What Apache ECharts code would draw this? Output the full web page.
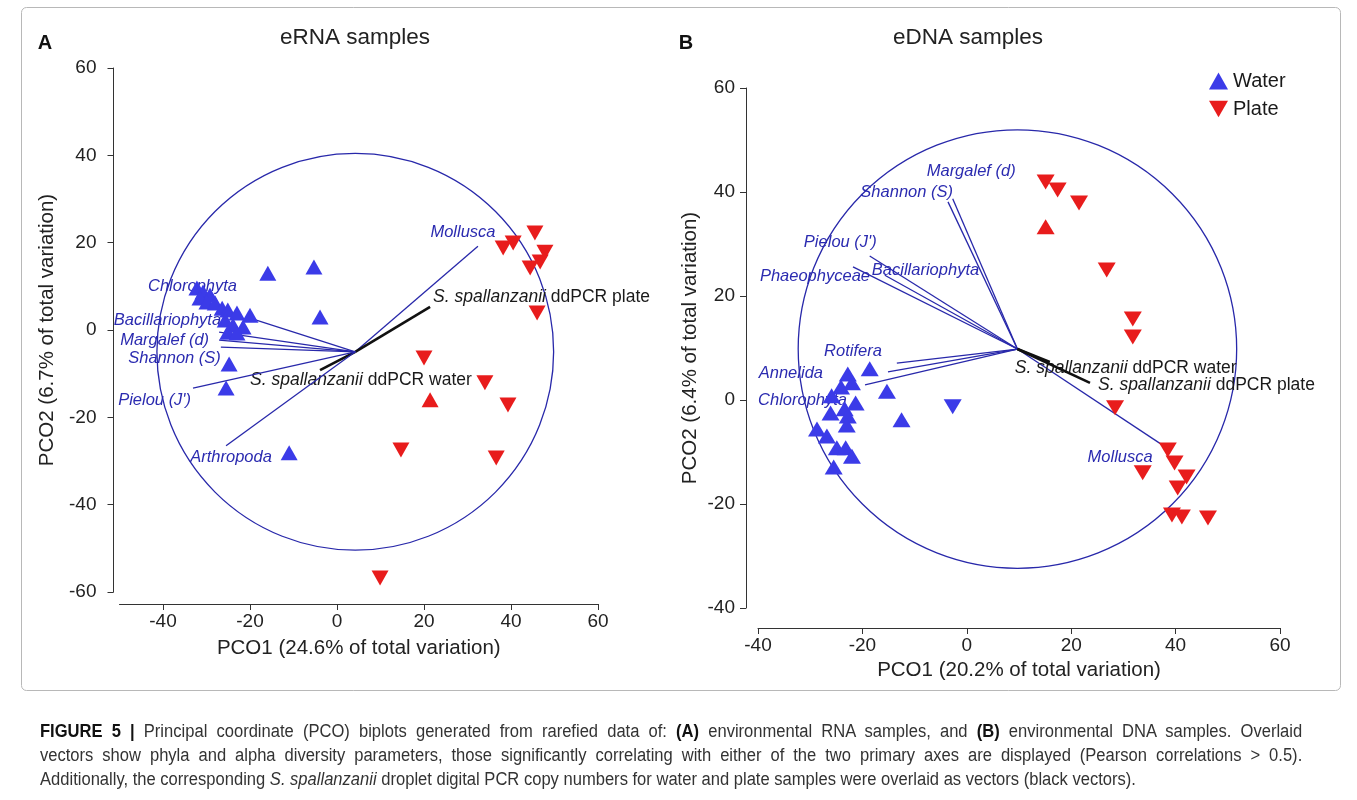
<!DOCTYPE html>
<html>
<head>
<meta charset="utf-8">
<title>Figure 5 - PCO biplots</title>
<script src="https://cdn.jsdelivr.net/npm/echarts@6/dist/echarts.min.js"></script>
<style>
  html, body { margin: 0; padding: 0; background: #fff; }
  #wrap { position: relative; width: 1357px; height: 800px; overflow: hidden; }
  #chart { position: absolute; left: 0; top: 0; width: 1357px; height: 800px; }
  #caption {
    position: absolute; left: 40px; top: 719px; width: 1372px;
    transform: scaleX(0.92); transform-origin: 0 0;
    font-family: "Liberation Sans", Arial, sans-serif; font-size: 18px; line-height: 24px;
    color: #333; white-space: nowrap;
  }
  #caption div { text-align: justify; text-align-last: justify; }
  #caption div.last { text-align: left; text-align-last: left; }
  #caption b { color: #111; }
</style>
</head>
<body>
<div id="wrap">
  <div id="chart"></div>
  <div id="caption">
    <div><b>FIGURE 5 |</b> Principal coordinate (PCO) biplots generated from rarefied data of: <b>(A)</b> environmental RNA samples, and <b>(B)</b> environmental DNA samples. Overlaid</div>
    <div>vectors show phyla and alpha diversity parameters, those significantly correlating with either of the two primary axes are displayed (Pearson correlations &gt; 0.5).</div>
    <div class="last">Additionally, the corresponding <i>S. spallanzanii</i> droplet digital PCR copy numbers for water and plate samples were overlaid as vectors (black vectors).</div>
  </div>
</div>
<script>
// ---- panel A : eRNA samples ----
var waterA = [
  [-15.9, 13.0], [-5.3, 14.4], [-3.9, 3.0], [-24.8, -7.8], [-25.5, -13.3], [-11.0, -28.1],
  [-32.2, 9.6], [-30.8, 8.7], [-29.2, 8.0], [-31.5, 7.3], [-29.9, 6.4], [-28.0, 6.2],
  [-26.4, 5.0], [-25.1, 4.6], [-23.0, 3.9], [-20.0, 3.4], [-25.7, 2.3], [-23.9, 1.1],
  [-21.6, 0.7], [-25.1, -0.5], [-23.0, -0.7]
];
var plateA = [
  [45.5, 22.2], [40.5, 19.9], [38.2, 18.8], [47.8, 17.8], [46.7, 15.6], [44.4, 14.2],
  [46.0, 3.9], [20.0, -6.4], [34.0, -12.1], [39.3, -17.2], [14.7, -27.5], [36.6, -29.3],
  [9.9, -56.8]
];
var plateUpA = [[21.4, -16.0]];
var originA = [4.2, -5.0];
var radiusA = 45.6;
var vecNamesA = ['Mollusca', 'S. spallanzanii ddPCR plate', 'S. spallanzanii ddPCR water',
  'Arthropoda', "Pielou (J')", 'Shannon (S)', 'Margalef (d)', 'Bacillariophyta', 'Chlorophyta'];
var vecEndsA = [[32.4, 19.2], [21.4, 5.3], [-3.9, -9.2], [-25.5, -26.5], [-33.1, -13.3],
  [-26.7, -3.9], [-27.1, -2.3], [-27.1, -0.5], [-20.0, 2.7]];
var xTicksA = [-40, -20, 0, 20, 40, 60];
var yTicksA = [-60, -40, -20, 0, 20, 40, 60];

// ---- panel B : eDNA samples ----
var waterB = [
  [-18.6, 6.0], [-22.8, 5.0], [-22.0, 3.3], [-24.1, 2.5], [-15.3, 1.7], [-25.9, 0.8],
  [-21.3, -0.6], [-23.4, -1.7], [-26.1, -2.5], [-12.5, -3.8], [-22.8, -3.1], [-23.0, -4.8],
  [-28.7, -5.6], [-26.8, -6.9], [-24.9, -9.2], [-23.2, -9.2], [-22.0, -10.8], [-25.5, -12.9]
];
var waterDownB = [[-2.7, -1.3]];
var plateB = [
  [15.1, 41.9], [17.4, 40.4], [21.5, 37.9], [26.8, 25.0], [31.8, 15.6], [31.8, 12.1],
  [28.4, -1.5], [38.5, -9.6], [39.8, -12.1], [33.7, -14.0], [42.1, -14.8], [40.4, -16.9],
  [39.3, -22.1], [41.2, -22.5], [46.2, -22.7]
];
var plateUpB = [[15.1, 33.3]];
var originB = [9.7, 9.8];
var radiusB = 42.0;
var vecNamesB = ['Margalef (d)', 'Shannon (S)', "Pielou (J')", 'Bacillariophyta', 'Phaeophyceae',
  'Rotifera', 'Annelida', 'Chlorophyta', 'Mollusca',
  'S. spallanzanii ddPCR water', 'S. spallanzanii ddPCR plate'];
var vecEndsB = [[-2.7, 38.7], [-3.6, 38.1], [-18.6, 27.7], [-15.7, 24.0], [-21.8, 25.6],
  [-13.4, 7.1], [-15.1, 5.4], [-19.5, 2.9], [38.3, -9.2], [15.9, 7.3], [23.6, 3.3]];
var xTicksB = [-40, -20, 0, 20, 40, 60];
var yTicksB = [-40, -20, 0, 20, 40, 60];

// label placement (pixel offset from vector tip, alignment)
var labelLayoutA = [[-15, -14, 'center'], [3, -10, 'left'], [-70, 10, 'left'], [5, 12, 'center'],
  [-2, 12, 'right'], [0, 11, 'right'], [-10, 0, 'right'], [2, -12, 'right'], [-13, -32, 'right']];
var labelLayoutB = [[-26, -27, 'left'], [5, -9, 'right'], [7, -14, 'right'], [-13, -5, 'left'],
  [17, 10, 'right'], [-15, -12, 'right'], [-65, 1, 'right'], [-18, 15, 'right'], [-14, 10, 'right'],
  [-35, 6, 'left'], [8, 2, 'left']];

var FONT = '"Liberation Sans", Arial, sans-serif';
var BLUE = '#3b3be8';
var RED = '#e81c1c';
var VEC = '#2828aa';

var chart = echarts.init(document.getElementById('chart'));

function circleSeries(idx, origin, radius) {
  return {
    type: 'custom', xAxisIndex: idx, yAxisIndex: idx, silent: true, clip: false, z: 1,
    data: [[origin[0], origin[1], radius]],
    renderItem: function (params, api) {
      var c = api.coord([api.value(0), api.value(1)]);
      var r = api.size([api.value(2), 0])[0];
      return { type: 'circle', shape: { cx: c[0], cy: c[1], r: r },
        style: { fill: 'none', stroke: VEC, lineWidth: 1.3 } };
    }
  };
}

function vectorSeries(idx, origin, names, ends, layout) {
  return {
    type: 'custom', xAxisIndex: idx, yAxisIndex: idx, silent: true, clip: false, z: 2,
    data: ends.map(function (e, i) { return [e[0], e[1], i]; }),
    renderItem: function (params, api) {
      var i = api.value(2);
      var o = api.coord(origin);
      var e = api.coord([api.value(0), api.value(1)]);
      var lay = layout[i];
      var black = names[i].indexOf('spallanzanii') >= 0;
      var txt = black ? '{i|S. spallanzanii} ' + names[i].replace('S. spallanzanii ', '') : names[i];
      return {
        type: 'group',
        children: [
          { type: 'line', shape: { x1: o[0], y1: o[1], x2: e[0], y2: e[1] },
            style: { stroke: black ? '#111' : VEC, lineWidth: black ? 2.6 : 1.3 } },
          { type: 'text', x: e[0] + lay[0], y: e[1] + lay[1],
            style: {
              text: txt, align: lay[2], verticalAlign: 'middle',
              fontFamily: FONT, fontSize: black ? 17.5 : 16.5,
              fontStyle: black ? 'normal' : 'italic',
              fill: black ? '#1a1a1a' : '#2b2bb0',
              rich: { i: { fontStyle: 'italic', fontFamily: FONT, fontSize: 17.5, fill: '#1a1a1a' } }
            } }
        ]
      };
    }
  };
}

function pointSeries(idx, name, data, up, color, size) {
  return {
    type: 'scatter', name: name, xAxisIndex: idx, yAxisIndex: idx, z: 5,
    data: data,
    symbol: up ? 'triangle' : 'path://M0,0L10,0L5,8.66Z',
    symbolSize: size,
    itemStyle: { color: color, opacity: 1 },
    emphasis: { disabled: true }
  };
}

function xAxis(idx, min, max, ticks, name, offset, gap) {
  return {
    gridIndex: idx, type: 'value', min: min, max: max, offset: offset,
    splitLine: { show: false },
    axisLine: { show: true, onZero: false, lineStyle: { color: '#333', width: 1 } },
    axisTick: { show: true, length: 6, customValues: ticks, lineStyle: { color: '#333' } },
    axisLabel: { customValues: ticks, margin: 8, color: '#222', fontSize: 19, fontFamily: FONT },
    name: name, nameLocation: 'middle', nameGap: gap,
    nameTextStyle: { color: '#222', fontSize: 20.5, fontFamily: FONT }
  };
}

function yAxis(idx, min, max, ticks, name, offset, gap, margin) {
  return {
    gridIndex: idx, type: 'value', min: min, max: max, offset: offset,
    splitLine: { show: false },
    axisLine: { show: true, onZero: false, lineStyle: { color: '#333', width: 1 } },
    axisTick: { show: true, length: 6, customValues: ticks, lineStyle: { color: '#333' } },
    axisLabel: { customValues: ticks, margin: margin, color: '#222', fontSize: 19, fontFamily: FONT },
    name: name, nameLocation: 'middle', nameGap: gap,
    nameTextStyle: { color: '#222', fontSize: 20.5, fontFamily: FONT }
  };
}

var option = {
  backgroundColor: '#fff',
  animation: false,
  grid: [
    { left: 119.5, top: 68, width: 478.5, height: 524 },
    { left: 758, top: 88, width: 522, height: 520 }
  ],
  xAxis: [
    xAxis(0, -50, 60, xTicksA, 'PCO1 (24.6% of total variation)', 12, 34),
    xAxis(1, -40, 60, xTicksB, 'PCO1 (20.2% of total variation)', 20, 28)
  ],
  yAxis: [
    yAxis(0, -60, 60, yTicksA, 'PCO2 (6.7% of total variation)', 6, 56, 17),
    yAxis(1, -40, 60, yTicksB, 'PCO2 (6.4% of total variation)', 12, 45, 11)
  ],
  legend: {
    data: ['Water', 'Plate'], orient: 'vertical', left: 1204, top: 66,
    itemWidth: 19, itemHeight: 17, itemGap: 8,
    textStyle: { color: '#1a1a1a', fontSize: 20, fontFamily: FONT }
  },
  series: [
    circleSeries(0, originA, radiusA),
    vectorSeries(0, originA, vecNamesA, vecEndsA, labelLayoutA),
    pointSeries(0, 'Water', waterA, true, BLUE, [17, 15]),
    pointSeries(0, 'Plate', plateA, false, RED, [17, 15]),
    pointSeries(0, 'Plate (up)', plateUpA, true, RED, [17, 15]),
    circleSeries(1, originB, radiusB),
    vectorSeries(1, originB, vecNamesB, vecEndsB, labelLayoutB),
    pointSeries(1, 'Water', waterB, true, BLUE, [18, 15]),
    pointSeries(1, 'Water (down)', waterDownB, false, BLUE, [18, 15]),
    pointSeries(1, 'Plate', plateB, false, RED, [18, 15]),
    pointSeries(1, 'Plate (up)', plateUpB, true, RED, [18, 15])
  ],
  graphic: [
    { type: 'rect', silent: true, shape: { x: 21.5, y: 7.5, width: 1319, height: 683, r: 5 },
      style: { fill: 'none', stroke: '#b8b8b8', lineWidth: 1 } },
    { type: 'text', x: 45, y: 43, style: { text: 'A', align: 'center', verticalAlign: 'middle',
      fontFamily: FONT, fontSize: 20, fontWeight: 'bold', fill: '#111' } },
    { type: 'text', x: 686, y: 43, style: { text: 'B', align: 'center', verticalAlign: 'middle',
      fontFamily: FONT, fontSize: 20, fontWeight: 'bold', fill: '#111' } },
    { type: 'text', x: 355, y: 38, style: { text: 'eRNA samples', align: 'center', verticalAlign: 'middle',
      fontFamily: FONT, fontSize: 22.5, fill: '#222' } },
    { type: 'text', x: 968, y: 38, style: { text: 'eDNA samples', align: 'center', verticalAlign: 'middle',
      fontFamily: FONT, fontSize: 22.5, fill: '#222' } }
  ]
};

chart.setOption(option);
</script>
</body>
</html>
